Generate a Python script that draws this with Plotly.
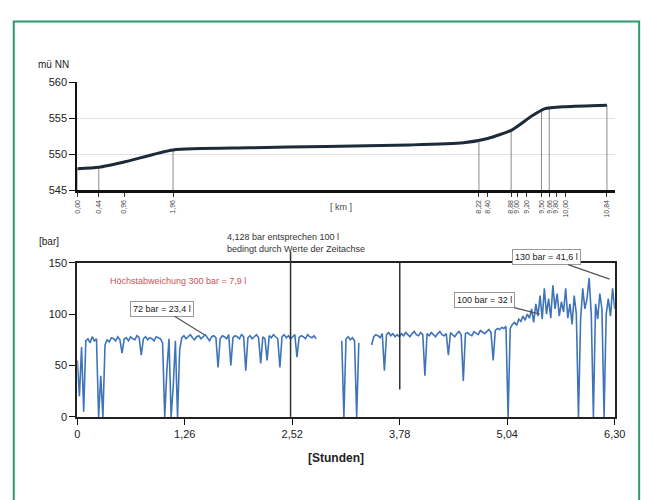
import plotly.graph_objects as go

# ---------------- data ----------------
# elevation profile (top panel)
profile_km = [0.0, 0.44, 1.0, 1.96, 3.5, 5.1, 6.8, 7.9, 8.4, 8.9, 9.3, 9.56, 10.0, 10.84]
profile_elev = [548.0, 548.2, 549.0, 550.6, 550.9, 551.1, 551.3, 551.6, 552.2, 553.4, 555.3, 556.3, 556.6, 556.8]

station_km = [0.0, 0.44, 1.96, 8.22, 8.88, 9.5, 9.66, 10.84]
station_elev = [548.0, 548.2, 550.6, 551.8, 553.3, 556.1, 556.5, 556.8]
km_tickvals = [0.0, 0.44, 0.96, 1.96, 8.22, 8.4, 8.88, 9.0, 9.2, 9.5, 9.66, 9.8, 10.0, 10.84]
km_ticktext = ["0,00", "0,44", "0,96", "1,96", "8,22", "8,40", "8,88", "9,00", "9,20",
               "9,50", "9,66", "9,80", "10,00", "10,84"]
elev_ticks = [545, 550, 555, 560]

# pressure record (bottom panel), one reading every 0.025 h
sample_step_h = 0.025
pressure_bar = [
    55, 20, 68, 5, 74, 76, 72, 78, 74, 76, 0, 40, 0,
    70, 75, 73, 77, 76, 74, 78, 75, 62, 76, 77, 74, 78, 76, 75, 79, 77, 60, 76, 78,
    75, 77, 76, 74, 78, 77, 76, 72,
    0, 45, 76, 0, 30, 74, 0, 65,
    77, 79, 76, 78, 80, 77, 75, 78, 79, 76,
    78, 80, 77, 74, 78, 79, 77, 48, 76, 79,
    78, 76, 80, 50, 77, 79, 78, 76, 80, 78,
    45, 77, 79, 76, 78, 80, 77, 52, 78, 76,
    55, 79, 77, 80, 78, 76, 48, 78, 80, 77,
    79, 76, 78, 80, 58, 77, 79, 78, 76, 80,
    78, 77, 79, 76,
    None, None, None, None, None, None, None, None, None, None, None,
    74, 0, 76, 78, 75, 77, 74, 0, 72,
    None, None, None, None, None,
    70, 78, 80, 79, 77, 81, 45, 80, 82, 79, 81, 78, 80, 78,
    81, 79, 82, 80, 78, 81, 83, 80, 79, 82,
    80, 40, 81, 79, 82, 80, 78, 81, 83, 80,
    79, 81, 60, 82, 80, 78, 81, 83, 80, 35,
    81, 82, 80, 79, 83, 81, 80, 84, 82, 81,
    83, 85, 82, 55, 84, 86, 85, 87, 86,
    88, 0, 86, 90, 92, 89, 95, 93, 98, 94,
    100, 96, 105, 92, 110, 98, 118, 95, 125, 100,
    115, 96, 128, 105, 120, 98, 112, 102, 125, 96,
    110, 90, 118, 100, 0, 95, 125, 105, 115, 135,
    100, 0, 110, 95, 120, 105, 0, 100, 115, 98, 125, 105,
]
pressure_hours = [round(i * sample_step_h, 3) for i in range(len(pressure_bar))]

hour_ticks = [0, 1.26, 2.52, 3.78, 5.04, 6.30]
hour_ticktext = ["0", "1,26", "2,52", "3,78", "5,04", "6,30"]
bar_ticks = [0, 50, 100, 150]
leader_hours = [2.50, 3.78]

# ---------------- figure ----------------
FONT = "Liberation Sans"
W, H = 657, 500


def px(x):
    return x / W


def py(y):
    return 1 - y / H


fig = go.Figure()

# station drop lines
drop_x, drop_y = [], []
for k, e in zip(station_km, station_elev):
    drop_x += [k, k, None]
    drop_y += [545, e, None]
fig.add_trace(go.Scatter(x=drop_x, y=drop_y, mode="lines",
                         line=dict(color="#8a8a8a", width=1),
                         xaxis="x", yaxis="y", showlegend=False, hoverinfo="skip"))
fig.add_trace(go.Scatter(x=profile_km, y=profile_elev, mode="lines",
                         line=dict(color="#1c2a3a", width=3, shape="spline", smoothing=0.6),
                         xaxis="x", yaxis="y", showlegend=False))

fig.add_trace(go.Scatter(x=pressure_hours, y=pressure_bar, mode="lines",
                         line=dict(color="#3f74b8", width=1.6),
                         connectgaps=False,
                         xaxis="x2", yaxis="y2", showlegend=False))

xd = [px(75), px(625)]
fig.update_layout(
    width=W, height=H,
    margin=dict(l=0, r=0, t=0, b=0),
    paper_bgcolor="white", plot_bgcolor="white",
    font=dict(family=FONT, size=11, color="#222"),
    xaxis=dict(domain=xd, anchor="y", range=[0, 11],
               tickvals=km_tickvals, ticktext=km_ticktext, tickangle=-90,
               tickfont=dict(size=7, color="#444"),
               ticks="outside", ticklen=4, tickcolor="#333",
               showline=True, linecolor="#111", linewidth=2.5,
               showgrid=False, zeroline=False),
    yaxis=dict(domain=[py(189), py(78)], anchor="x", range=[545, 560],
               tickvals=elev_ticks, ticks="outside", ticklen=6, tickcolor="#111",
               tickfont=dict(size=11, color="#222"),
               showline=True, linecolor="#111", linewidth=2,
               showgrid=True, gridcolor="#e2e2e2", gridwidth=1, zeroline=False),
    xaxis2=dict(domain=xd, anchor="y2", range=[0, 6.30],
                tickvals=hour_ticks, ticktext=hour_ticktext,
                tickfont=dict(size=11, color="#222"),
                ticks="outside", ticklen=6, tickcolor="#111",
                showline=True, linecolor="#222", linewidth=2, mirror=True,
                showgrid=False, zeroline=False),
    yaxis2=dict(domain=[py(421), py(263)], anchor="x2", range=[0, 150],
                tickvals=bar_ticks, ticks="outside", ticklen=6, tickcolor="#111",
                tickfont=dict(size=11, color="#222"),
                showline=True, linecolor="#222", linewidth=2, mirror=True,
                showgrid=False, zeroline=False),
)

shapes = [
    # green frame
    dict(type="rect", xref="paper", yref="paper", x0=px(10), x1=px(650),
         y0=-0.05, y1=py(16), line=dict(color="#2e9a6a", width=2), fillcolor="rgba(0,0,0,0)"),
]
# leader lines of the upper annotation
shapes.append(dict(type="line", xref="x2", yref="paper", x0=leader_hours[0], x1=leader_hours[0],
                   y0=py(421), y1=py(252), line=dict(color="#333", width=1.5)))
shapes.append(dict(type="line", xref="x2", yref="paper", x0=leader_hours[1], x1=leader_hours[1],
                   y0=py(393), y1=py(263), line=dict(color="#333", width=1.5)))
fig.update_layout(shapes=shapes)

ann = [
    dict(text="mü NN", xref="paper", yref="paper", x=px(33), y=py(60),
         xanchor="left", yanchor="middle", showarrow=False, font=dict(size=10, color="#222")),
    dict(text="[ km ]", xref="paper", yref="paper", x=px(345), y=py(206),
         xanchor="center", yanchor="middle", showarrow=False, font=dict(size=9, color="#444")),
    dict(text="[bar]", xref="paper", yref="paper", x=px(34), y=py(241),
         xanchor="left", yanchor="middle", showarrow=False, font=dict(size=10, color="#222")),
    dict(text="<b>[Stunden]</b>", xref="paper", yref="paper", x=px(340), y=py(463),
         xanchor="center", yanchor="middle", showarrow=False, font=dict(size=12, color="#222")),
    dict(text="4,128 bar entsprechen 100 l<br>bedingt durch Werte der Zeitachse",
         xref="paper", yref="paper", x=px(226), y=py(243), align="left",
         xanchor="left", yanchor="middle", showarrow=False, font=dict(size=9, color="#333")),
    dict(text="Höchstabweichung 300 bar = 7,9 l", xref="x2", yref="y2", x=1.18, y=132,
         xanchor="center", yanchor="middle", showarrow=False, font=dict(size=9, color="#d0505a")),
    dict(text="72 bar = 23,4 l", xref="x2", yref="y2", x=1.49, y=80,
         ax=-42, ay=-26, showarrow=True, arrowhead=0, arrowwidth=1.2, arrowcolor="#555",
         bgcolor="white", bordercolor="#999", borderwidth=1, borderpad=2,
         font=dict(size=9, color="#222")),
    dict(text="100 bar = 32 l", xref="x2", yref="y2", x=5.42, y=100,
         ax=-55, ay=-14, showarrow=True, arrowhead=0, arrowwidth=1.2, arrowcolor="#555",
         bgcolor="white", bordercolor="#999", borderwidth=1, borderpad=2,
         font=dict(size=9, color="#222")),
    dict(text="130 bar = 41,6 l", xref="x2", yref="y2", x=6.24, y=134,
         ax=-63, ay=-22, showarrow=True, arrowhead=0, arrowwidth=1.2, arrowcolor="#555",
         bgcolor="white", bordercolor="#999", borderwidth=1, borderpad=2,
         font=dict(size=9, color="#222")),
]
fig.update_layout(annotations=ann)

post = (
    "var gd=document.getElementById('{plot_id}');"
    "document.documentElement.style.cssText='margin:0;padding:0;overflow:hidden';"
    "document.body.style.cssText='margin:0;padding:0;overflow:hidden';"
    "var w=window.innerWidth||657, h=window.innerHeight||500;"
    "gd.style.width=w+'px'; gd.style.height=h+'px';"
    "Plotly.relayout(gd,{width:w,height:h});"
)

fig.write_html("out.html", config={"displayModeBar": False}, post_script=post)
